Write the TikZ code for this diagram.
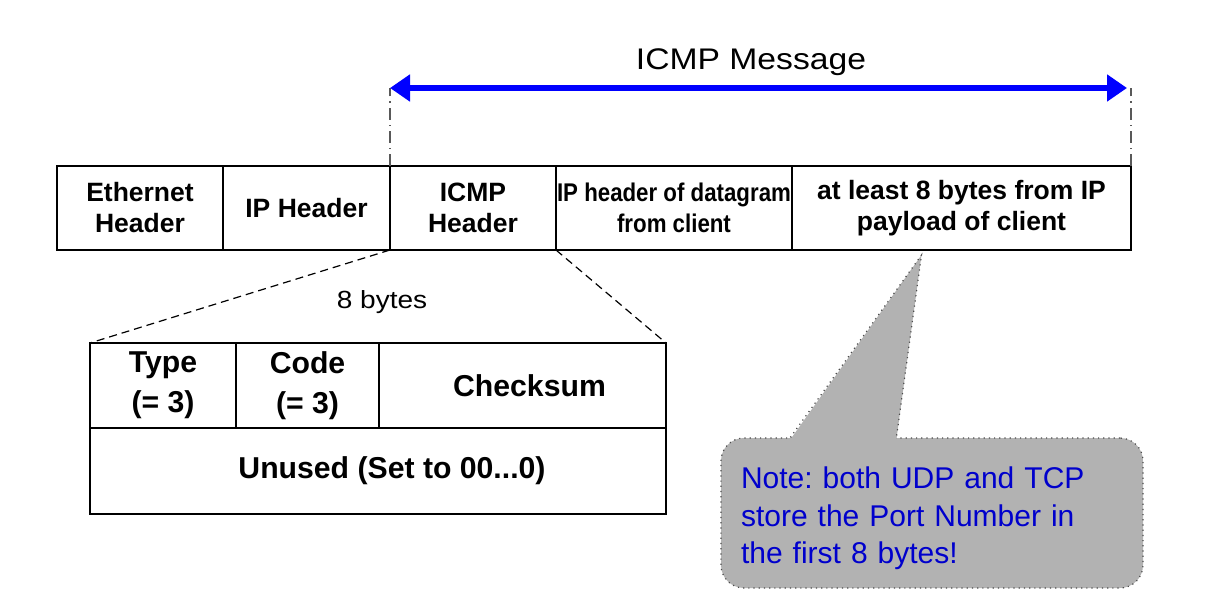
\documentclass[tikz,border=0pt]{standalone}
\usepackage{fontspec}
\setmainfont{Liberation Sans}
\newfontfamily\widesf[FakeStretch=1.13]{Liberation Sans}
\newfontfamily\narrowsf[FakeStretch=0.87]{Liberation Sans}
\usetikzlibrary{
    arrows.meta,
    positioning,
    calc,
}
\definecolor{msgblue}{RGB}{0,0,255}
\definecolor{noteblue}{RGB}{0,0,204}
\frenchspacing

\begin{document}
\begin{tikzpicture}[
    x=0.5pt, y=-0.5pt,
    field/.style={draw, line width=1pt, align=center, inner sep=0pt, outer sep=0pt, minimum height=42pt, font=\bfseries\fontsize{13.25}{15.5}\selectfont},
    cell/.style={draw, line width=1pt, align=center, inner sep=0pt, outer sep=0pt, minimum height=42.5pt, font=\bfseries\fontsize{15.1}{20}\selectfont},
    zoomline/.style={line width=0.6pt, dash pattern=on 4pt off 2.5pt},
    guide/.style={black!65, line width=0.6pt, dash pattern=on 6pt off 2.5pt on 0.6pt off 2.5pt},
    note/.style={fill=black!30, draw=black!70, dotted, line width=0.6pt, rounded corners=11.5pt, minimum width=211pt, minimum height=75pt, inner xsep=10pt, text width=191pt, align=left, text=noteblue, font=\fontsize{15}{18.7}\selectfont},
    ]

\useasboundingbox (0,0) rectangle (1205,604);

\node[field, minimum width=83pt] at (140,208) (eth) {Ethernet\\Header};
\node[field, minimum width=83.5pt, right=0pt of eth] (iph) {IP Header};
\node[field, minimum width=83pt, right=0pt of iph] (icmph) {ICMP\\Header};
\node[field, minimum width=118pt, right=0pt of icmph, font=\narrowsf\bfseries\fontsize{12.8}{15.8}\selectfont] (dgram)
    {IP header of datagram\\from client};
\node[field, minimum width=169.5pt, right=0pt of dgram] (payload)
    {at least 8 bytes from IP\\payload of client};

\node[font=\widesf\fontsize{14.9}{17}\selectfont] at (751,62) (msg) {ICMP Message};
\coordinate (msgl) at (390,88);
\coordinate (msgr) at (1127,88);
\draw[guide] (icmph.north west) -- (msgl);
\draw[guide] (payload.north east) -- ++(0,-78);
\draw[{Triangle[length=10pt,width=13pt]}-{Triangle[length=10pt,width=13pt]}, msgblue, line width=2.6pt] (msgl) -- (msgr);

\node[cell, minimum width=73pt] at (163,385.5) (type) {Type\\(= 3)};
\node[cell, minimum width=71.5pt, right=0pt of type] (code) {Code\\(= 3)};
\node[cell, minimum width=143.5pt, right=0pt of code] (checksum) {\hspace*{7pt}Checksum};
\node[cell, minimum width=288pt, minimum height=43pt, below=0pt of type.south west, anchor=north west] (unused)
    {\hspace*{14pt}Unused (Set to 00...0)};

\node[font=\widesf\fontsize{12.4}{15}\selectfont] at (382,302) (bytes) {8 bytes};
\draw[zoomline] (icmph.south west) -- (type.north west);
\draw[zoomline] (icmph.south east) -- (checksum.north east);

\node[note] at (932,513) (note)
    {\rule{0pt}{16.5pt}Note: both UDP and TCP\\store the Port Number in\\the first 8 bytes!};
\coordinate (tip) at ([xshift=-20pt,yshift=-2.5pt]payload.south);
\fill[black!30] ([xshift=35pt,yshift=-1pt]note.north west) -- (tip) -- ([xshift=88pt,yshift=-1pt]note.north west) -- cycle;
\draw[black!70, dotted, line width=0.6pt] ([xshift=35pt]note.north west) -- (tip) -- ([xshift=88pt]note.north west);

\end{tikzpicture}
\end{document}
